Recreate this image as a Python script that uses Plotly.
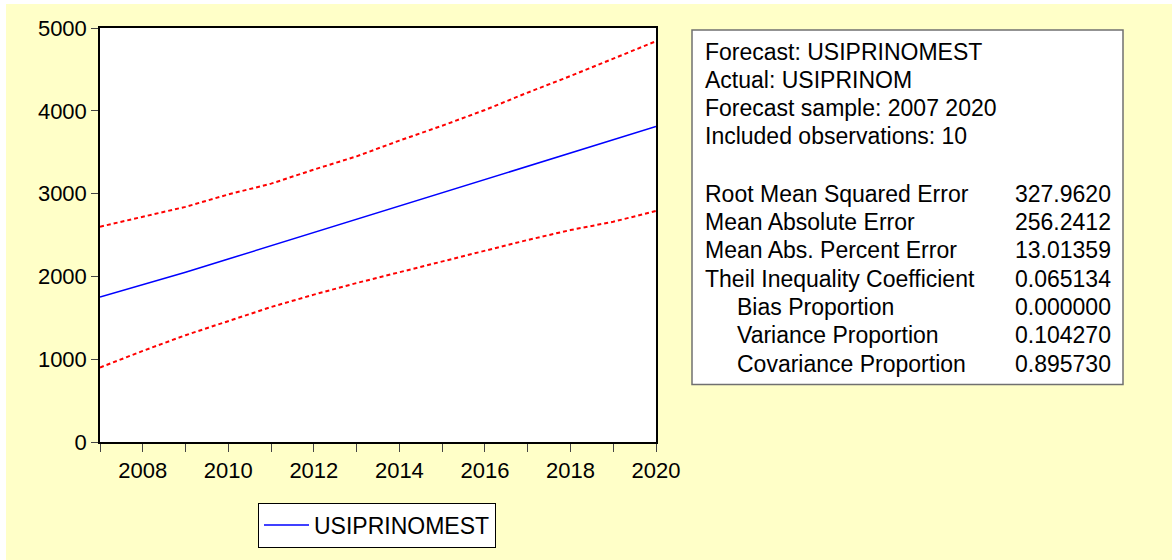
import plotly.graph_objects as go

# forecast series
years = list(range(2007, 2021))
forecast = [1750, 1900, 2050, 2210, 2370, 2530, 2690, 2850, 3010, 3170, 3330, 3490, 3650, 3810]
upper = [2600, 2720, 2840, 2990, 3120, 3290, 3450, 3640, 3820, 4010, 4220, 4420, 4630, 4840]
lower = [900, 1100, 1290, 1460, 1630, 1780, 1920, 2050, 2180, 2310, 2440, 2560, 2660, 2790]

header_lines = [
    "Forecast: USIPRINOMEST",
    "Actual: USIPRINOM",
    "Forecast sample: 2007 2020",
    "Included observations: 10",
]
stat_labels = [
    "Root Mean Squared Error",
    "Mean Absolute Error",
    "Mean Abs. Percent Error",
    "Theil Inequality Coefficient",
    "Bias Proportion",
    "Variance Proportion",
    "Covariance Proportion",
]
stat_values = ["327.9620", "256.2412", "13.01359", "0.065134", "0.000000", "0.104270", "0.895730"]
stat_indent = [False, False, False, False, True, True, True]

BG = "#FFFFC8"
FONT = "Liberation Sans, Arial, sans-serif"

# page offset of the figure and plot area (page pixels)
OX, OY = 6, 4
L, R, T, B = 100, 656, 28, 445
W, H = 1172 - OX, 560 - OY


def px_x(px):
    return (px - L) / (R - L)


def px_y(py):
    return (B - py) / (B - T)


fig = go.Figure()

fig.add_trace(go.Scatter(x=years, y=upper, mode="lines", showlegend=False,
                         line=dict(color="#FF0000", width=2, dash="4px,3px")))
fig.add_trace(go.Scatter(x=years, y=lower, mode="lines", showlegend=False,
                         line=dict(color="#FF0000", width=2, dash="4px,3px")))
fig.add_trace(go.Scatter(x=years, y=forecast, mode="lines", name="USIPRINOMEST",
                         line=dict(color="#0000FF", width=1.5)))

# stats box
fig.add_shape(type="rect", xref="paper", yref="paper",
              x0=px_x(692), x1=px_x(1123), y0=px_y(387), y1=px_y(30),
              fillcolor="white", line=dict(color="#707070", width=1.5))

annos = []
for i, t in enumerate(header_lines):
    annos.append(dict(x=px_x(703), y=px_y(52 + i * 28.2), text=t, xanchor="left", yanchor="middle"))
for i, (lab, val, ind) in enumerate(zip(stat_labels, stat_values, stat_indent)):
    yy = px_y(195 + i * 28.5)
    annos.append(dict(x=px_x(735 if ind else 703), y=yy, text=lab, xanchor="left", yanchor="middle"))
    annos.append(dict(x=px_x(1113), y=yy, text=val, xanchor="right", yanchor="middle"))
for a in annos:
    a.update(xref="paper", yref="paper", showarrow=False, font=dict(family=FONT, size=23, color="black"))

fig.update_layout(
    width=W, height=H,
    margin=dict(l=L - OX, r=W - (R - OX), t=T - OY, b=H - (B - OY)),
    paper_bgcolor=BG, plot_bgcolor="white",
    font=dict(family=FONT, size=22, color="black"),
    annotations=annos,
    legend=dict(orientation="h", x=px_x(258), y=px_y(506), xanchor="left", yanchor="top",
                bgcolor="white", bordercolor="black", borderwidth=1,
                itemwidth=45, font=dict(size=23)),
)
fig.update_xaxes(range=[2007, 2020], tick0=2008, dtick=2, ticks="outside", ticklen=8,
                 tickcolor="#444", showgrid=False, zeroline=False,
                 showline=True, linecolor="black", linewidth=1.5, mirror=True,
                 minor=dict(dtick=1, tick0=2007, ticks="outside", ticklen=8, tickcolor="#444"))
fig.update_yaxes(range=[0, 5000], dtick=1000, ticks="outside", ticklen=7,
                 tickcolor="#444", showgrid=False, zeroline=False,
                 showline=True, linecolor="black", linewidth=1.5, mirror=True)

fig.write_html("out.html", post_script="document.body.style.margin='4px 0 0 6px';")
